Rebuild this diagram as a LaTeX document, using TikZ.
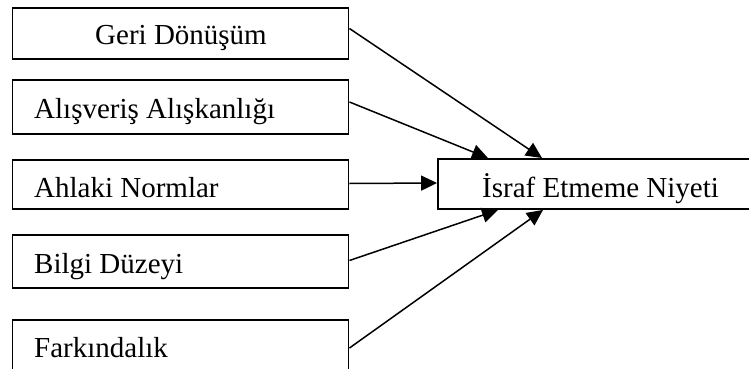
\documentclass[tikz,border=0pt]{standalone}
\usepackage{fontspec}
\setmainfont{Liberation Serif}
\usetikzlibrary{arrows.meta}
\begin{document}
\begin{tikzpicture}[x=1pt,y=-1pt,
  box/.style={draw=black,line width=1.9pt,rectangle,inner sep=0pt,minimum width=336pt},
  lbl/.style={inner sep=0pt,font=\fontsize{29}{34}\selectfont},
  arr/.style={line width=1.5pt,-{Triangle[length=16pt,width=15pt]}}]
\useasboundingbox (0,0) rectangle (749,369);
\clip (0,0) rectangle (749,369);
\node[box,minimum height=51pt] (b1) at (180.5,33.5) {};
\node[box,minimum height=54pt] (b2) at (180.5,107) {};
\node[box,minimum height=49pt] (b3) at (180.5,184.5) {};
\node[box,minimum height=53pt] (b4) at (180.5,261.5) {};
\node[box,minimum height=52pt] (b5) at (180.5,346) {};
\node[box,minimum width=326pt,minimum height=50pt] (t) at (601,184) {};
\node[lbl,anchor=base] (l1) at (181,45) {Geri Dönüşüm};
\node[lbl,anchor=base west] (l2) at (34,118) {Alışveriş Alışkanlığı};
\node[lbl,anchor=base west] (l3) at (34,197) {Ahlaki Normlar};
\node[lbl,anchor=base west] (l4) at (34,273) {Bilgi Düzeyi};
\node[lbl,anchor=base west] (l5) at (34,357) {Farkındalık};
\node[lbl,anchor=base west] (lt) at (482,197) {İsraf Etmeme Niyeti};
\draw[arr] ([yshift=5pt]b1.east) -- ([xshift=-59pt]t.north);
\draw[arr] ([yshift=5pt]b2.east) -- ([xshift=-113pt]t.north);
\draw[arr] ([yshift=1pt]b3.east) -- ([yshift=1pt]t.west);
\draw[arr] ([yshift=1pt]b4.east) -- ([xshift=-103pt]t.south);
\draw[arr] ([yshift=-2pt]b5.east) -- ([xshift=-58pt]t.south);
\end{tikzpicture}
\end{document}
